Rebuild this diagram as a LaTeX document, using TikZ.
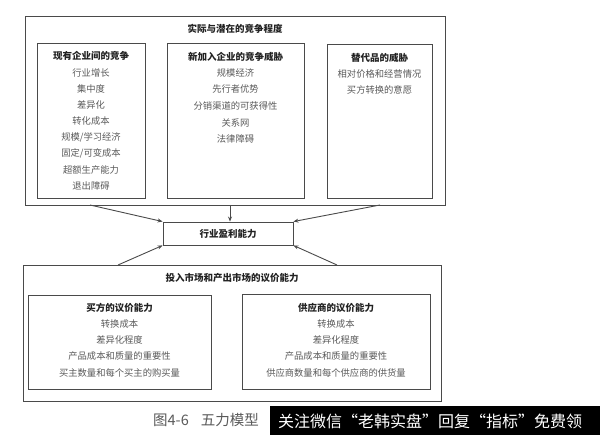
\documentclass[tikz,border=0pt]{standalone}
\usepackage{fontspec}
\setmainfont{Noto Sans CJK SC}
\usetikzlibrary{arrows.meta}
\definecolor{lineC}{HTML}{4A4A4A}
\definecolor{itemC}{HTML}{5A5A5A}
\definecolor{headC}{HTML}{222222}
\begin{document}
\begin{tikzpicture}[x=1pt,y=-1pt,
  box/.style={draw=lineC,line width=0.9pt,inner sep=0pt},
  head/.style={font=\fontsize{9.5}{10}\selectfont\bfseries,text=headC,inner sep=0pt},
  item/.style={font=\fontsize{9.3}{10}\selectfont,text=itemC,inner sep=0pt},
  arr/.style={draw=lineC,line width=0.9pt,-{Stealth[length=5pt,width=4pt]}}]
\useasboundingbox (0,0) rectangle (600,435);
\fill[white] (0,0) rectangle (600,435);

% top block
\node[box,minimum width=420pt,minimum height=189pt] (top) at (235,110.5) {};
\node[head] (toptitle) at (235,29) {实际与潜在的竞争程度};
\node[box,minimum width=108pt,minimum height=155pt] (b1) at (91,120.5) {};
\node[box,minimum width=137pt,minimum height=155pt] (b2) at (235.5,120.5) {};
\node[box,minimum width=105pt,minimum height=154pt] (b3) at (379.5,121) {};

\node[head] (b1h) at (91,56) {现有企业间的竞争};
\node[item] (b1i1) at (91,72.5) {行业增长};
\node[item] (b1i2) at (91,88.5) {集中度};
\node[item] (b1i3) at (91,104.5) {差异化};
\node[item] (b1i4) at (91,121) {转化成本};
\node[item] (b1i5) at (91,137) {规模/学习经济};
\node[item] (b1i6) at (91,153.5) {固定/可变成本};
\node[item] (b1i7) at (91,170) {超额生产能力};
\node[item] (b1i8) at (91,186) {退出障碍};

\node[head] (b2h) at (235.5,57) {新加入企业的竞争威胁};
\node[item] (b2i1) at (235.5,73) {规模经济};
\node[item] (b2i2) at (235.5,89) {先行者优势};
\node[item] (b2i3) at (235.5,106) {分销渠道的可获得性};
\node[item] (b2i4) at (235.5,122.5) {关系网};
\node[item] (b2i5) at (235.5,138.5) {法律障碍};

\node[head] (b3h) at (379.5,57.5) {替代品的威胁};
\node[item] (b3i1) at (379.5,74) {相对价格和经营情况};
\node[item] (b3i2) at (379.5,90) {买方转换的意愿};

% middle box
\node[box,minimum width=130pt,minimum height=23pt] (mid) at (228,233.5) {};
\node[head] (midt) at (228,233.5) {行业盈利能力};

% bottom block
\node[box,minimum width=418pt,minimum height=136pt] (bot) at (232,333) {};
\node[head] (bottitle) at (232,278) {投入市场和产出市场的议价能力};
\node[box,minimum width=183pt,minimum height=94pt] (b4) at (119.5,342) {};
\node[box,minimum width=188pt,minimum height=95pt] (b5) at (336,341.5) {};

\node[head] (b4h) at (119.5,307.5) {买方的议价能力};
\node[item] (b4i1) at (119.5,323.5) {转换成本};
\node[item] (b4i2) at (119.5,340) {差异化程度};
\node[item] (b4i3) at (119.5,356) {产品成本和质量的重要性};
\node[item] (b4i4) at (119.5,372.5) {买主数量和每个买主的购买量};

\node[head] (b5h) at (336,307.5) {供应商的议价能力};
\node[item] (b5i1) at (336,323.5) {转换成本};
\node[item] (b5i2) at (336,340) {差异化程度};
\node[item] (b5i3) at (336,356) {产品成本和质量的重要性};
\node[item] (b5i4) at (336,372.5) {供应商数量和每个供应商的供货量};

% arrows
\coordinate (s1) at (90,205);
\coordinate (s2) at (230,205);
\coordinate (s3) at (380,205);
\coordinate (s4) at (118,265);
\coordinate (s5) at (337,265);
\draw[arr] (s1) -- (mid.north west);
\draw[arr] (s2) -- (s2 |- mid.north);
\draw[arr] (s3) -- (mid.north east);
\draw[arr] (s4) -- (mid.south west);
\draw[arr] (s5) -- (mid.south east);

% caption and overlay banner
\node[font=\fontsize{14.5}{16}\selectfont,text=itemC,inner sep=0pt,anchor=west] (cap) at (153,420) {图4-6\hspace{12pt}五力模型};
\fill[black] (270,406) rectangle (600,435);
\node[font=\fontsize{16}{18}\selectfont,text=white,inner sep=0pt,anchor=west] (ban) at (278,421) {关注微信“老韩实盘”回复“指标”免费领};
\end{tikzpicture}
\end{document}
